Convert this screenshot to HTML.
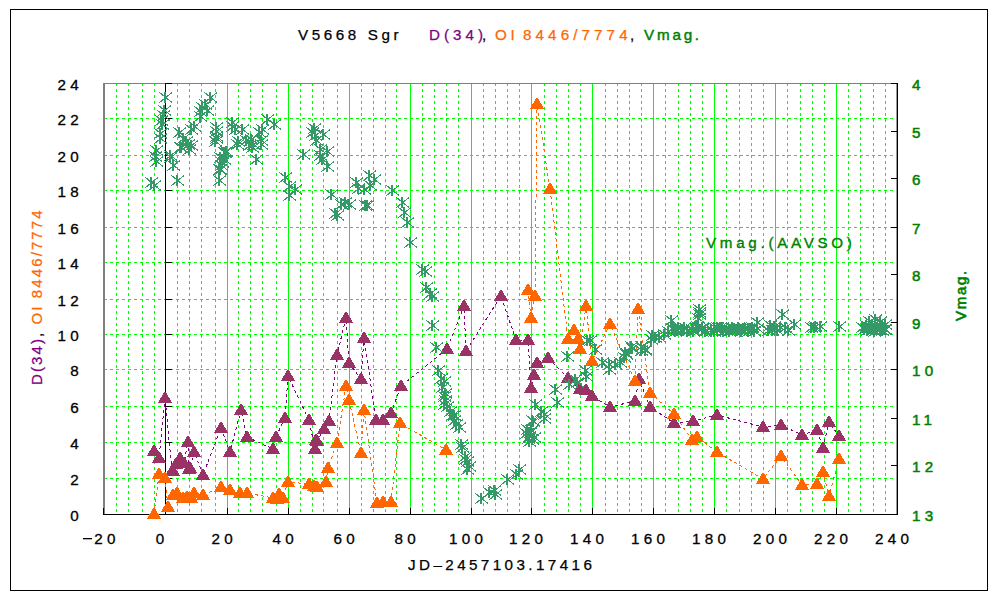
<!DOCTYPE html><html><head><meta charset="utf-8"><title>V5668 Sgr</title><style>html,body{margin:0;padding:0;background:#fff;}body{width:1000px;height:600px;overflow:hidden;}svg{display:block;}text{font-family:"Liberation Sans",sans-serif;}</style></head><body>
<svg width="1000" height="600" viewBox="0 0 1000 600">
<rect x="0" y="0" width="1000" height="600" fill="#fff"/>
<rect x="10.5" y="9.5" width="977" height="581" fill="none" stroke="#000" stroke-width="1" shape-rendering="crispEdges"/>
<path d="M116.5 83V514M128.5 83V514M142.5 83V514M154.5 83V514M177.5 83V514M189.5 83V514M201.5 83V514M215.5 83V514M238.5 83V514M250.5 83V514M262.5 83V514M276.5 83V514M300.5 83V514M312.5 83V514M323.5 83V514M337.5 83V514M361.5 83V514M373.5 83V514M385.5 83V514M396.5 83V514M422.5 83V514M434.5 83V514M446.5 83V514M458.5 83V514M483.5 83V514M495.5 83V514M507.5 83V514M519.5 83V514M544.5 83V514M556.5 83V514M568.5 83V514M580.5 83V514M605.5 83V514M617.5 83V514M629.5 83V514M641.5 83V514M665.5 83V514M678.5 83V514M690.5 83V514M702.5 83V514M726.5 83V514M739.5 83V514M751.5 83V514M763.5 83V514M787.5 83V514M800.5 83V514M812.5 83V514M824.5 83V514M848.5 83V514M860.5 83V514M873.5 83V514M885.5 83V514" stroke="#00ff00" stroke-width="1" stroke-dasharray="3 3" fill="none" shape-rendering="crispEdges"/>
<path d="M227.5 84V514M288.5 84V514M349.5 84V514M410.5 84V514M471.5 84V514M531.5 84V514M592.5 84V514M653.5 84V514M714.5 84V514M775.5 84V514M836.5 84V514" stroke="#00ff00" stroke-width="1" fill="none" shape-rendering="crispEdges"/>
<path d="M104 118.5H897M104 155.5H897M104 190.5H897M104 227.5H897M104 262.5H897M104 299.5H897M104 334.5H897M104 369.5H897M104 406.5H897M104 442.5H897M104 478.5H897" stroke="#00ff00" stroke-width="1" stroke-dasharray="3 3" fill="none" shape-rendering="crispEdges"/>
<g shape-rendering="crispEdges"><path d="M103 83h2v432h-2z" fill="#808080"/><path d="M103 83h795v1h-795z" fill="#808080"/><path d="M896 84h1v430h-1z" fill="#9a9a9a"/><path d="M103 514h795v1h-795z" fill="#000"/><path d="M897 83h1v432h-1z" fill="#000"/><path d="M165 83h1v432h-1z" fill="#000"/><path d="M165 514h7v1h-7zM165 478h7v1h-7zM165 442h7v1h-7zM165 406h7v1h-7zM165 369h7v1h-7zM165 334h7v1h-7zM165 299h7v1h-7zM165 262h7v1h-7zM165 227h7v1h-7zM165 190h7v1h-7zM165 155h7v1h-7zM165 118h7v1h-7zM165 83h7v1h-7zM891 83h6v1h-6zM891 131h6v1h-6zM891 178h6v1h-6zM891 227h6v1h-6zM891 274h6v1h-6zM891 322h6v1h-6zM891 369h6v1h-6zM891 418h6v1h-6zM891 465h6v1h-6zM891 514h6v1h-6zM103 508h1v6h-1zM165 508h1v6h-1zM227 508h1v6h-1zM288 508h1v6h-1zM349 508h1v6h-1zM410 508h1v6h-1zM471 508h1v6h-1zM531 508h1v6h-1zM592 508h1v6h-1zM653 508h1v6h-1zM714 508h1v6h-1zM775 508h1v6h-1zM836 508h1v6h-1zM897 508h1v6h-1z" fill="#000"/></g>
<g shape-rendering="crispEdges">
<path d="M154.0 451.0L159.0 458.0L165.0 398.0L172.0 471.0L173.0 471.0L176.0 464.0L180.0 458.0L184.0 463.0L188.0 442.0L189.0 469.0L190.0 468.0L194.0 452.0L203.0 475.0L221.0 428.0L230.0 452.0L241.0 410.0L247.0 437.0L273.0 449.0L276.0 437.0L285.0 418.0L288.0 376.0L309.0 420.0L315.0 449.0L316.0 440.0L317.0 441.0L324.0 429.0L329.0 421.0L337.0 355.0L346.0 318.0L349.0 363.0L361.0 379.0L364.0 338.0L376.0 420.0L383.0 420.0L391.0 413.0L401.0 386.0L447.0 349.0L464.0 306.0L466.0 351.0L501.0 296.0L516.0 340.0L528.0 340.0L531.0 388.0L534.0 375.0L537.0 363.0L548.0 358.0L568.0 378.0L580.0 389.0L586.0 390.0L592.0 396.0L610.0 407.0L635.0 401.0L639.0 379.0L650.0 407.0L674.0 423.0L693.0 421.0L717.0 415.0L763.0 427.0L781.0 425.0L802.0 435.0L817.0 430.0L823.0 448.0L829.0 422.0L839.0 436.0" fill="none" stroke="#800080" stroke-width="1" stroke-dasharray="3 3"/>
<path d="M154.0 514.0L159.0 474.0L165.0 478.0L168.0 507.0L173.0 495.0L177.0 493.0L183.0 498.0L187.0 497.0L191.0 498.0L194.0 493.0L203.0 495.0L221.0 487.0L230.0 490.0L240.0 493.0L247.0 493.0L273.0 498.0L277.0 499.0L279.0 494.0L283.0 498.0L288.0 482.0L309.0 484.0L314.0 486.0L317.0 487.0L326.0 482.0L328.0 468.0L337.0 443.0L346.0 386.0L349.0 400.0L361.0 453.0L364.0 410.0L377.0 503.0L383.0 502.0L391.0 502.0L400.0 423.0L446.0 450.0M528.0 290.0L531.0 318.0L535.0 296.0L537.0 104.0L550.0 189.0L568.0 339.0L574.0 330.0L578.0 339.0L580.0 349.0L586.0 306.0L592.0 361.0L610.0 324.0L635.0 381.0L638.0 309.0L650.0 393.0L674.0 414.0L692.0 440.0L697.0 437.0L717.0 452.0L763.0 479.0L781.0 456.0L802.0 485.0L817.0 484.0L823.0 472.0L829.0 496.0L839.0 459.0" fill="none" stroke="#ff6600" stroke-width="1" stroke-dasharray="3 3"/>
<path d="M457.0 311.0L471.0 311.0L465.0 300.0L463.0 300.0ZM440.0 354.0L454.0 354.0L448.0 343.0L446.0 343.0ZM459.0 356.0L473.0 356.0L467.0 345.0L465.0 345.0ZM158.0 403.0L172.0 403.0L166.0 392.0L164.0 392.0ZM214.0 433.0L228.0 433.0L222.0 422.0L220.0 422.0ZM181.0 447.0L195.0 447.0L189.0 436.0L187.0 436.0ZM147.0 456.0L161.0 456.0L155.0 445.0L153.0 445.0ZM152.0 463.0L166.0 463.0L160.0 452.0L158.0 452.0ZM173.0 463.0L187.0 463.0L181.0 452.0L179.0 452.0ZM166.0 476.0L180.0 476.0L174.0 465.0L172.0 465.0ZM183.0 473.0L197.0 473.0L191.0 462.0L189.0 462.0ZM187.0 457.0L201.0 457.0L195.0 446.0L193.0 446.0ZM196.0 480.0L210.0 480.0L204.0 469.0L202.0 469.0ZM234.0 415.0L248.0 415.0L242.0 404.0L240.0 404.0ZM240.0 442.0L254.0 442.0L248.0 431.0L246.0 431.0ZM223.0 457.0L237.0 457.0L231.0 446.0L229.0 446.0ZM278.0 423.0L292.0 423.0L286.0 412.0L284.0 412.0ZM269.0 442.0L283.0 442.0L277.0 431.0L275.0 431.0ZM266.0 454.0L280.0 454.0L274.0 443.0L272.0 443.0ZM302.0 425.0L316.0 425.0L310.0 414.0L308.0 414.0ZM339.0 323.0L353.0 323.0L347.0 312.0L345.0 312.0ZM357.0 343.0L371.0 343.0L365.0 332.0L363.0 332.0ZM330.0 360.0L344.0 360.0L338.0 349.0L336.0 349.0ZM342.0 368.0L356.0 368.0L350.0 357.0L348.0 357.0ZM354.0 384.0L368.0 384.0L362.0 373.0L360.0 373.0ZM322.0 426.0L336.0 426.0L330.0 415.0L328.0 415.0ZM317.0 434.0L331.0 434.0L325.0 423.0L323.0 423.0ZM309.0 445.0L323.0 445.0L317.0 434.0L315.0 434.0ZM369.0 425.0L383.0 425.0L377.0 414.0L375.0 414.0ZM376.0 425.0L390.0 425.0L384.0 414.0L382.0 414.0ZM384.0 418.0L398.0 418.0L392.0 407.0L390.0 407.0ZM394.0 391.0L408.0 391.0L402.0 380.0L400.0 380.0ZM310.0 446.0L324.0 446.0L318.0 435.0L316.0 435.0ZM308.0 454.0L322.0 454.0L316.0 443.0L314.0 443.0ZM494.0 301.0L508.0 301.0L502.0 290.0L500.0 290.0ZM509.0 345.0L523.0 345.0L517.0 334.0L515.0 334.0ZM521.0 345.0L535.0 345.0L529.0 334.0L527.0 334.0ZM530.0 368.0L544.0 368.0L538.0 357.0L536.0 357.0ZM541.0 363.0L555.0 363.0L549.0 352.0L547.0 352.0ZM527.0 380.0L541.0 380.0L535.0 369.0L533.0 369.0ZM524.0 393.0L538.0 393.0L532.0 382.0L530.0 382.0ZM561.0 383.0L575.0 383.0L569.0 372.0L567.0 372.0ZM573.0 394.0L587.0 394.0L581.0 383.0L579.0 383.0ZM579.0 395.0L593.0 395.0L587.0 384.0L585.0 384.0ZM585.0 401.0L599.0 401.0L593.0 390.0L591.0 390.0ZM632.0 384.0L646.0 384.0L640.0 373.0L638.0 373.0ZM628.0 406.0L642.0 406.0L636.0 395.0L634.0 395.0ZM603.0 412.0L617.0 412.0L611.0 401.0L609.0 401.0ZM643.0 412.0L657.0 412.0L651.0 401.0L649.0 401.0ZM667.0 428.0L681.0 428.0L675.0 417.0L673.0 417.0ZM710.0 420.0L724.0 420.0L718.0 409.0L716.0 409.0ZM756.0 432.0L770.0 432.0L764.0 421.0L762.0 421.0ZM774.0 430.0L788.0 430.0L782.0 419.0L780.0 419.0ZM795.0 440.0L809.0 440.0L803.0 429.0L801.0 429.0ZM810.0 435.0L824.0 435.0L818.0 424.0L816.0 424.0ZM822.0 427.0L836.0 427.0L830.0 416.0L828.0 416.0ZM832.0 441.0L846.0 441.0L840.0 430.0L838.0 430.0ZM816.0 453.0L830.0 453.0L824.0 442.0L822.0 442.0ZM281.0 381.0L295.0 381.0L289.0 370.0L287.0 370.0ZM169.0 469.0L183.0 469.0L177.0 458.0L175.0 458.0ZM165.0 476.0L179.0 476.0L173.0 465.0L171.0 465.0ZM177.0 468.0L191.0 468.0L185.0 457.0L183.0 457.0ZM182.0 474.0L196.0 474.0L190.0 463.0L188.0 463.0ZM686.0 426.0L700.0 426.0L694.0 415.0L692.0 415.0Z" fill="#993366"/>
<path d="M152.0 479.0L166.0 479.0L160.0 468.0L158.0 468.0ZM158.0 483.0L172.0 483.0L166.0 472.0L164.0 472.0ZM147.0 519.0L161.0 519.0L155.0 508.0L153.0 508.0ZM161.0 512.0L175.0 512.0L169.0 501.0L167.0 501.0ZM214.0 492.0L228.0 492.0L222.0 481.0L220.0 481.0ZM223.0 495.0L237.0 495.0L231.0 484.0L229.0 484.0ZM166.0 500.0L180.0 500.0L174.0 489.0L172.0 489.0ZM170.0 498.0L184.0 498.0L178.0 487.0L176.0 487.0ZM176.0 503.0L190.0 503.0L184.0 492.0L182.0 492.0ZM180.0 502.0L194.0 502.0L188.0 491.0L186.0 491.0ZM187.0 498.0L201.0 498.0L195.0 487.0L193.0 487.0ZM184.0 503.0L198.0 503.0L192.0 492.0L190.0 492.0ZM196.0 500.0L210.0 500.0L204.0 489.0L202.0 489.0ZM233.0 498.0L247.0 498.0L241.0 487.0L239.0 487.0ZM240.0 498.0L254.0 498.0L248.0 487.0L246.0 487.0ZM281.0 487.0L295.0 487.0L289.0 476.0L287.0 476.0ZM272.0 499.0L286.0 499.0L280.0 488.0L278.0 488.0ZM266.0 503.0L280.0 503.0L274.0 492.0L272.0 492.0ZM276.0 503.0L290.0 503.0L284.0 492.0L282.0 492.0ZM270.0 504.0L284.0 504.0L278.0 493.0L276.0 493.0ZM302.0 489.0L316.0 489.0L310.0 478.0L308.0 478.0ZM307.0 491.0L321.0 491.0L315.0 480.0L313.0 480.0ZM339.0 391.0L353.0 391.0L347.0 380.0L345.0 380.0ZM342.0 405.0L356.0 405.0L350.0 394.0L348.0 394.0ZM357.0 415.0L371.0 415.0L365.0 404.0L363.0 404.0ZM330.0 448.0L344.0 448.0L338.0 437.0L336.0 437.0ZM321.0 473.0L335.0 473.0L329.0 462.0L327.0 462.0ZM319.0 487.0L333.0 487.0L327.0 476.0L325.0 476.0ZM310.0 492.0L324.0 492.0L318.0 481.0L316.0 481.0ZM354.0 458.0L368.0 458.0L362.0 447.0L360.0 447.0ZM370.0 508.0L384.0 508.0L378.0 497.0L376.0 497.0ZM376.0 507.0L390.0 507.0L384.0 496.0L382.0 496.0ZM384.0 507.0L398.0 507.0L392.0 496.0L390.0 496.0ZM439.0 455.0L453.0 455.0L447.0 444.0L445.0 444.0ZM393.0 428.0L407.0 428.0L401.0 417.0L399.0 417.0ZM521.0 295.0L535.0 295.0L529.0 284.0L527.0 284.0ZM528.0 301.0L542.0 301.0L536.0 290.0L534.0 290.0ZM524.0 323.0L538.0 323.0L532.0 312.0L530.0 312.0ZM567.0 335.0L581.0 335.0L575.0 324.0L573.0 324.0ZM561.0 344.0L575.0 344.0L569.0 333.0L567.0 333.0ZM571.0 344.0L585.0 344.0L579.0 333.0L577.0 333.0ZM573.0 354.0L587.0 354.0L581.0 343.0L579.0 343.0ZM579.0 311.0L593.0 311.0L587.0 300.0L585.0 300.0ZM631.0 314.0L645.0 314.0L639.0 303.0L637.0 303.0ZM603.0 329.0L617.0 329.0L611.0 318.0L609.0 318.0ZM585.0 366.0L599.0 366.0L593.0 355.0L591.0 355.0ZM628.0 386.0L642.0 386.0L636.0 375.0L634.0 375.0ZM643.0 398.0L657.0 398.0L651.0 387.0L649.0 387.0ZM667.0 419.0L681.0 419.0L675.0 408.0L673.0 408.0ZM710.0 457.0L724.0 457.0L718.0 446.0L716.0 446.0ZM756.0 484.0L770.0 484.0L764.0 473.0L762.0 473.0ZM774.0 461.0L788.0 461.0L782.0 450.0L780.0 450.0ZM795.0 490.0L809.0 490.0L803.0 479.0L801.0 479.0ZM810.0 489.0L824.0 489.0L818.0 478.0L816.0 478.0ZM816.0 477.0L830.0 477.0L824.0 466.0L822.0 466.0ZM832.0 464.0L846.0 464.0L840.0 453.0L838.0 453.0ZM822.0 501.0L836.0 501.0L830.0 490.0L828.0 490.0ZM543.0 194.0L557.0 194.0L551.0 183.0L549.0 183.0ZM530.0 109.0L544.0 109.0L538.0 98.0L536.0 98.0ZM685.0 445.0L699.0 445.0L693.0 434.0L691.0 434.0ZM690.0 442.0L704.0 442.0L698.0 431.0L696.0 431.0Z" fill="#ff6600"/>
<path d="M159.5 92.5L172.0 102.5M159.5 102.5L172.0 92.5M173.5 127.5L186.0 137.5M173.5 137.5L186.0 127.5M185.5 124.5L198.0 134.5M185.5 134.5L198.0 124.5M188.5 121.5L201.0 131.5M188.5 131.5L201.0 121.5M180.5 136.5L193.0 146.5M180.5 146.5L193.0 136.5M182.5 139.5L195.0 149.5M182.5 149.5L195.0 139.5M177.5 133.5L190.0 143.5M177.5 143.5L190.0 133.5M175.5 142.5L188.0 152.5M175.5 152.5L188.0 142.5M183.5 144.5L196.0 154.5M183.5 154.5L196.0 144.5M164.5 150.5L177.0 160.5M164.5 160.5L177.0 150.5M204.5 92.5L217.0 102.5M204.5 102.5L217.0 92.5M199.5 99.5L212.0 109.5M199.5 109.5L212.0 99.5M196.5 102.5L209.0 112.5M196.5 112.5L209.0 102.5M194.5 106.5L207.0 116.5M194.5 116.5L207.0 106.5M194.5 111.5L207.0 121.5M194.5 121.5L207.0 111.5M201.5 105.5L214.0 115.5M201.5 115.5L214.0 105.5M210.5 126.5L223.0 136.5M210.5 136.5L223.0 126.5M210.5 133.5L223.0 143.5M210.5 143.5L223.0 133.5M145.5 177.5L158.0 187.5M145.5 187.5L158.0 177.5M148.5 180.5L161.0 190.5M148.5 190.5L161.0 180.5M164.5 152.5L177.0 162.5M164.5 162.5L177.0 152.5M167.5 160.5L180.0 170.5M167.5 170.5L180.0 160.5M171.5 175.5L184.0 185.5M171.5 185.5L184.0 175.5M174.5 142.5L187.0 152.5M174.5 152.5L187.0 142.5M214.5 152.5L227.0 162.5M214.5 162.5L227.0 152.5M216.5 157.5L229.0 167.5M216.5 167.5L229.0 157.5M213.5 164.5L226.0 174.5M213.5 174.5L226.0 164.5M213.5 175.5L226.0 185.5M213.5 185.5L226.0 175.5M219.5 147.5L232.0 157.5M219.5 157.5L232.0 147.5M210.5 122.5L223.0 132.5M210.5 132.5L223.0 122.5M210.5 131.5L223.0 141.5M210.5 141.5L223.0 131.5M226.5 117.5L239.0 127.5M226.5 127.5L239.0 117.5M226.5 121.5L239.0 131.5M226.5 131.5L239.0 121.5M229.5 124.5L242.0 134.5M229.5 134.5L242.0 124.5M236.5 124.5L249.0 134.5M236.5 134.5L249.0 124.5M232.5 136.5L245.0 146.5M232.5 146.5L245.0 136.5M240.5 135.5L253.0 145.5M240.5 145.5L253.0 135.5M245.5 134.5L258.0 144.5M245.5 144.5L258.0 134.5M247.5 139.5L260.0 149.5M247.5 149.5L260.0 139.5M253.5 127.5L266.0 137.5M253.5 137.5L266.0 127.5M255.5 135.5L268.0 145.5M255.5 145.5L268.0 135.5M256.5 124.5L269.0 134.5M256.5 134.5L269.0 124.5M261.5 114.5L274.0 124.5M261.5 124.5L274.0 114.5M268.5 119.5L281.0 129.5M268.5 129.5L281.0 119.5M250.5 154.5L263.0 164.5M250.5 164.5L263.0 154.5M218.5 147.5L231.0 157.5M218.5 157.5L231.0 147.5M310.5 135.5L323.0 145.5M310.5 145.5L323.0 135.5M306.5 127.5L319.0 137.5M306.5 137.5L319.0 127.5M309.5 130.5L322.0 140.5M309.5 140.5L322.0 130.5M317.5 129.5L330.0 139.5M317.5 139.5L330.0 129.5M308.5 123.5L321.0 133.5M308.5 133.5L321.0 123.5M297.5 149.5L310.0 159.5M297.5 159.5L310.0 149.5M314.5 150.5L327.0 160.5M314.5 160.5L327.0 150.5M316.5 154.5L329.0 164.5M316.5 164.5L329.0 154.5M321.5 146.5L334.0 156.5M321.5 156.5L334.0 146.5M314.5 144.5L327.0 154.5M314.5 154.5L327.0 144.5M321.5 161.5L334.0 171.5M321.5 171.5L334.0 161.5M279.5 172.5L292.0 182.5M279.5 182.5L292.0 172.5M283.5 181.5L296.0 191.5M283.5 191.5L296.0 181.5M289.5 184.5L302.0 194.5M289.5 194.5L302.0 184.5M283.5 190.5L296.0 200.5M283.5 200.5L296.0 190.5M325.5 189.5L338.0 199.5M325.5 199.5L338.0 189.5M331.5 210.5L344.0 220.5M331.5 220.5L344.0 210.5M329.5 208.5L342.0 218.5M329.5 218.5L342.0 208.5M335.5 199.5L348.0 209.5M335.5 209.5L348.0 199.5M339.5 197.5L352.0 207.5M339.5 207.5L352.0 197.5M343.5 199.5L356.0 209.5M343.5 209.5L356.0 199.5M350.5 177.5L363.0 187.5M350.5 187.5L363.0 177.5M359.5 200.5L372.0 210.5M359.5 210.5L372.0 200.5M363.5 170.5L376.0 180.5M363.5 180.5L376.0 170.5M358.5 184.5L371.0 194.5M358.5 194.5L371.0 184.5M364.5 180.5L377.0 190.5M364.5 190.5L377.0 180.5M368.5 174.5L381.0 184.5M368.5 184.5L381.0 174.5M361.5 200.5L374.0 210.5M361.5 210.5L374.0 200.5M386.5 185.5L399.0 195.5M386.5 195.5L399.0 185.5M396.5 197.5L409.0 207.5M396.5 207.5L409.0 197.5M398.5 207.5L411.0 217.5M398.5 217.5L411.0 207.5M401.5 217.5L414.0 227.5M401.5 227.5L414.0 217.5M404.5 237.5L417.0 247.5M404.5 247.5L417.0 237.5M416.5 264.5L429.0 274.5M416.5 274.5L429.0 264.5M419.5 266.5L432.0 276.5M419.5 276.5L432.0 266.5M420.5 282.5L433.0 292.5M420.5 292.5L433.0 282.5M424.5 288.5L437.0 298.5M424.5 298.5L437.0 288.5M426.5 291.5L439.0 301.5M426.5 301.5L439.0 291.5M426.5 320.5L439.0 330.5M426.5 330.5L439.0 320.5M430.5 342.5L443.0 352.5M430.5 352.5L443.0 342.5M432.5 365.5L445.0 375.5M432.5 375.5L445.0 365.5M438.5 376.5L451.0 386.5M438.5 386.5L451.0 376.5M436.5 382.5L449.0 392.5M436.5 392.5L449.0 382.5M439.5 388.5L452.0 398.5M439.5 398.5L452.0 388.5M438.5 391.5L451.0 401.5M438.5 401.5L451.0 391.5M439.5 395.5L452.0 405.5M439.5 405.5L452.0 395.5M441.5 401.5L454.0 411.5M441.5 411.5L454.0 401.5M444.5 406.5L457.0 416.5M444.5 416.5L457.0 406.5M448.5 410.5L461.0 420.5M448.5 420.5L461.0 410.5M435.5 373.5L448.0 383.5M435.5 383.5L448.0 373.5M438.5 399.5L451.0 409.5M438.5 409.5L451.0 399.5M446.5 410.5L459.0 420.5M446.5 420.5L459.0 410.5M448.5 415.5L461.0 425.5M448.5 425.5L461.0 415.5M450.5 419.5L463.0 429.5M450.5 429.5L463.0 419.5M453.5 422.5L466.0 432.5M453.5 432.5L466.0 422.5M455.5 439.5L468.0 449.5M455.5 449.5L468.0 439.5M456.5 442.5L469.0 452.5M456.5 452.5L469.0 442.5M459.5 451.5L472.0 461.5M459.5 461.5L472.0 451.5M461.5 456.5L474.0 466.5M461.5 466.5L474.0 456.5M463.5 461.5L476.0 471.5M463.5 471.5L476.0 461.5M459.5 454.5L472.0 464.5M459.5 464.5L472.0 454.5M461.5 464.5L474.0 474.5M461.5 474.5L474.0 464.5M475.5 493.5L488.0 503.5M475.5 503.5L488.0 493.5M483.5 487.5L496.0 497.5M483.5 497.5L496.0 487.5M488.5 485.5L501.0 495.5M488.5 495.5L501.0 485.5M489.5 489.5L502.0 499.5M489.5 499.5L502.0 489.5M501.5 474.5L514.0 484.5M501.5 484.5L514.0 474.5M510.5 469.5L523.0 479.5M510.5 479.5L523.0 469.5M513.5 464.5L526.0 474.5M513.5 474.5L526.0 464.5M561.5 351.5L574.0 361.5M561.5 361.5L574.0 351.5M549.5 384.5L562.0 394.5M549.5 394.5L562.0 384.5M569.5 374.5L582.0 384.5M569.5 384.5L582.0 374.5M581.5 335.5L594.0 345.5M581.5 345.5L594.0 335.5M579.5 365.5L592.0 375.5M579.5 375.5L592.0 365.5M580.5 371.5L593.0 381.5M580.5 381.5L593.0 371.5M551.5 397.5L564.0 407.5M551.5 407.5L564.0 397.5M529.5 399.5L542.0 409.5M529.5 409.5L542.0 399.5M535.5 406.5L548.0 416.5M535.5 416.5L548.0 406.5M538.5 409.5L551.0 419.5M538.5 419.5L551.0 409.5M526.5 415.5L539.0 425.5M526.5 425.5L539.0 415.5M524.5 427.5L537.0 437.5M524.5 437.5L537.0 427.5M523.5 431.5L536.0 441.5M523.5 441.5L536.0 431.5M563.5 379.5L576.0 389.5M563.5 389.5L576.0 379.5M571.5 377.5L584.0 387.5M571.5 387.5L584.0 377.5M584.5 335.5L597.0 345.5M584.5 345.5L597.0 335.5M589.5 344.5L602.0 354.5M589.5 354.5L602.0 344.5M625.5 341.5L638.0 351.5M625.5 351.5L638.0 341.5M619.5 347.5L632.0 357.5M619.5 357.5L632.0 347.5M596.5 357.5L609.0 367.5M596.5 367.5L609.0 357.5M603.5 359.5L616.0 369.5M603.5 369.5L616.0 359.5M603.5 364.5L616.0 374.5M603.5 374.5L616.0 364.5M614.5 357.5L627.0 367.5M614.5 367.5L627.0 357.5M618.5 352.5L631.0 362.5M618.5 362.5L631.0 352.5M620.5 349.5L633.0 359.5M620.5 359.5L633.0 349.5M609.5 359.5L622.0 369.5M609.5 369.5L622.0 359.5M665.5 315.5L678.0 325.5M665.5 325.5L678.0 315.5M671.5 325.5L684.0 335.5M671.5 335.5L684.0 325.5M676.5 325.5L689.0 335.5M676.5 335.5L689.0 325.5M681.5 325.5L694.0 335.5M681.5 335.5L694.0 325.5M686.5 324.5L699.0 334.5M686.5 334.5L699.0 324.5M693.5 304.5L706.0 314.5M693.5 314.5L706.0 304.5M693.5 309.5L706.0 319.5M693.5 319.5L706.0 309.5M691.5 321.5L704.0 331.5M691.5 331.5L704.0 321.5M699.5 325.5L712.0 335.5M699.5 335.5L712.0 325.5M705.5 324.5L718.0 334.5M705.5 334.5L718.0 324.5M711.5 322.5L724.0 332.5M711.5 332.5L724.0 322.5M716.5 322.5L729.0 332.5M716.5 332.5L729.0 322.5M724.5 324.5L737.0 334.5M724.5 334.5L737.0 324.5M730.5 324.5L743.0 334.5M730.5 334.5L743.0 324.5M639.5 345.5L652.0 355.5M639.5 355.5L652.0 345.5M668.5 324.5L681.0 334.5M668.5 334.5L681.0 324.5M696.5 323.5L709.0 333.5M696.5 333.5L709.0 323.5M708.5 326.5L721.0 336.5M708.5 336.5L721.0 326.5M720.5 325.5L733.0 335.5M720.5 335.5L733.0 325.5M727.5 324.5L740.0 334.5M727.5 334.5L740.0 324.5M732.5 324.5L745.0 334.5M732.5 334.5L745.0 324.5M737.5 323.5L750.0 333.5M737.5 333.5L750.0 323.5M742.5 323.5L755.0 333.5M742.5 333.5L755.0 323.5M746.5 322.5L759.0 332.5M746.5 332.5L759.0 322.5M751.5 317.5L764.0 327.5M751.5 327.5L764.0 317.5M764.5 320.5L777.0 330.5M764.5 330.5L777.0 320.5M768.5 321.5L781.0 331.5M768.5 331.5L781.0 321.5M774.5 322.5L787.0 332.5M774.5 332.5L787.0 322.5M779.5 322.5L792.0 332.5M779.5 332.5L792.0 322.5M776.5 309.5L789.0 319.5M776.5 319.5L789.0 309.5M788.5 319.5L801.0 329.5M788.5 329.5L801.0 319.5M809.5 321.5L822.0 331.5M809.5 331.5L822.0 321.5M814.5 321.5L827.0 331.5M814.5 331.5L827.0 321.5M805.5 322.5L818.0 332.5M805.5 332.5L818.0 322.5M808.5 322.5L821.0 332.5M808.5 332.5L821.0 322.5M833.5 321.5L846.0 331.5M833.5 331.5L846.0 321.5M856.5 322.5L869.0 332.5M856.5 332.5L869.0 322.5M863.5 316.5L876.0 326.5M863.5 326.5L876.0 316.5M869.5 314.5L882.0 324.5M869.5 324.5L882.0 314.5M874.5 316.5L887.0 326.5M874.5 326.5L887.0 316.5M879.5 319.5L892.0 329.5M879.5 329.5L892.0 319.5M864.5 322.5L877.0 332.5M864.5 332.5L877.0 322.5M871.5 322.5L884.0 332.5M871.5 332.5L884.0 322.5M879.5 324.5L892.0 334.5M879.5 334.5L892.0 324.5M866.5 320.5L879.0 330.5M866.5 330.5L879.0 320.5M860.5 320.5L873.0 330.5M860.5 330.5L873.0 320.5M868.5 326.5L881.0 336.5M868.5 336.5L881.0 326.5M876.5 325.5L889.0 335.5M876.5 335.5L889.0 325.5M861.5 325.5L874.0 335.5M861.5 335.5L874.0 325.5M220.5 146.5L233.0 156.5M220.5 156.5L233.0 146.5M218.5 154.5L231.0 164.5M218.5 164.5L231.0 154.5M215.5 160.5L228.0 170.5M215.5 170.5L228.0 160.5M214.5 164.5L227.0 174.5M214.5 174.5L227.0 164.5M185.5 140.5L198.0 150.5M185.5 150.5L198.0 140.5M231.5 139.5L244.0 149.5M231.5 149.5L244.0 139.5M243.5 140.5L256.0 150.5M243.5 150.5L256.0 140.5M246.5 142.5L259.0 152.5M246.5 152.5L259.0 142.5M255.5 139.5L268.0 149.5M255.5 149.5L268.0 139.5M209.5 136.5L222.0 146.5M209.5 146.5L222.0 136.5M522.5 433.5L535.0 443.5M522.5 443.5L535.0 433.5M526.5 434.5L539.0 444.5M526.5 444.5L539.0 434.5M521.5 424.5L534.0 434.5M521.5 434.5L534.0 424.5M527.5 416.5L540.0 426.5M527.5 426.5L540.0 416.5M538.5 413.5L551.0 423.5M538.5 423.5L551.0 413.5M669.5 326.5L682.0 336.5M669.5 336.5L682.0 326.5M672.5 322.5L685.0 332.5M672.5 332.5L685.0 322.5M678.5 322.5L691.0 332.5M678.5 332.5L691.0 322.5M681.5 326.5L694.0 336.5M681.5 336.5L694.0 326.5M687.5 326.5L700.0 336.5M687.5 336.5L700.0 326.5M690.5 322.5L703.0 332.5M690.5 332.5L703.0 322.5M696.5 322.5L709.0 332.5M696.5 332.5L709.0 322.5M699.5 326.5L712.0 336.5M699.5 336.5L712.0 326.5M705.5 326.5L718.0 336.5M705.5 336.5L718.0 326.5M708.5 322.5L721.0 332.5M708.5 332.5L721.0 322.5M714.5 322.5L727.0 332.5M714.5 332.5L727.0 322.5M717.5 326.5L730.0 336.5M717.5 336.5L730.0 326.5M723.5 326.5L736.0 336.5M723.5 336.5L736.0 326.5M726.5 322.5L739.0 332.5M726.5 332.5L739.0 322.5M732.5 322.5L745.0 332.5M732.5 332.5L745.0 322.5M735.5 326.5L748.0 336.5M735.5 336.5L748.0 326.5M739.5 323.5L752.0 333.5M739.5 333.5L752.0 323.5M742.5 326.5L755.0 336.5M742.5 336.5L755.0 326.5M745.5 323.5L758.0 333.5M745.5 333.5L758.0 323.5M748.5 326.5L761.0 336.5M748.5 336.5L761.0 326.5M751.5 323.5L764.0 333.5M751.5 333.5L764.0 323.5M762.5 325.5L775.0 335.5M762.5 335.5L775.0 325.5M766.5 325.5L779.0 335.5M766.5 335.5L779.0 325.5M771.5 325.5L784.0 335.5M771.5 335.5L784.0 325.5M782.5 325.5L795.0 335.5M782.5 335.5L795.0 325.5M858.5 324.5L871.0 334.5M858.5 334.5L871.0 324.5M862.5 324.5L875.0 334.5M862.5 334.5L875.0 324.5M866.5 324.5L879.0 334.5M866.5 334.5L879.0 324.5M870.5 324.5L883.0 334.5M870.5 334.5L883.0 324.5M874.5 324.5L887.0 334.5M874.5 334.5L887.0 324.5M878.5 324.5L891.0 334.5M878.5 334.5L891.0 324.5M352.5 183.5L365.0 193.5M352.5 193.5L365.0 183.5M520.5 428.5L533.0 438.5M520.5 438.5L533.0 428.5M525.5 425.5L538.0 435.5M525.5 435.5L538.0 425.5M528.5 432.5L541.0 442.5M528.5 442.5L541.0 432.5M523.5 436.5L536.0 446.5M523.5 446.5L536.0 436.5M693.5 307.5L706.0 317.5M693.5 317.5L706.0 307.5M635.5 341.5L648.0 351.5M635.5 351.5L648.0 341.5M635.5 345.5L648.0 355.5M635.5 355.5L648.0 345.5M639.5 344.5L652.0 354.5M639.5 354.5L652.0 344.5M645.5 334.5L658.0 344.5M645.5 344.5L658.0 334.5M646.5 330.5L659.0 340.5M646.5 340.5L659.0 330.5M649.5 332.5L662.0 342.5M649.5 342.5L662.0 332.5M626.5 343.5L639.0 353.5M626.5 353.5L639.0 343.5M158.5 105.5L171.0 115.5M158.5 115.5L171.0 105.5M157.5 110.5L170.0 120.5M157.5 120.5L170.0 110.5M155.5 115.5L168.0 125.5M155.5 125.5L168.0 115.5M156.5 119.5L169.0 129.5M156.5 129.5L169.0 119.5M154.5 128.5L167.0 138.5M154.5 138.5L167.0 128.5M154.5 133.5L167.0 143.5M154.5 143.5L167.0 133.5M150.5 145.5L163.0 155.5M150.5 155.5L163.0 145.5M149.5 151.5L162.0 161.5M149.5 161.5L162.0 151.5M150.5 156.5L163.0 166.5M150.5 166.5L163.0 156.5M653.5 332.5L666.0 342.5M653.5 342.5L666.0 332.5M658.5 329.5L671.0 339.5M658.5 339.5L671.0 329.5M662.5 326.5L675.0 336.5M662.5 336.5L675.0 326.5M666.5 323.5L679.0 333.5M666.5 333.5L679.0 323.5M692.5 313.5L705.0 323.5M692.5 323.5L705.0 313.5" fill="none" stroke="#339966" stroke-width="1"/>
<path d="M164.0 92.0h2v11h-2zM178.0 127.0h2v11h-2zM190.0 124.0h2v11h-2zM193.0 121.0h2v11h-2zM185.0 136.0h2v11h-2zM187.0 139.0h2v11h-2zM182.0 133.0h2v11h-2zM180.0 142.0h2v11h-2zM188.0 144.0h2v11h-2zM169.0 150.0h2v11h-2zM209.0 92.0h2v11h-2zM204.0 99.0h2v11h-2zM201.0 102.0h2v11h-2zM199.0 106.0h2v11h-2zM199.0 111.0h2v11h-2zM206.0 105.0h2v11h-2zM215.0 126.0h2v11h-2zM215.0 133.0h2v11h-2zM150.0 177.0h2v11h-2zM153.0 180.0h2v11h-2zM169.0 152.0h2v11h-2zM172.0 160.0h2v11h-2zM176.0 175.0h2v11h-2zM179.0 142.0h2v11h-2zM219.0 152.0h2v11h-2zM221.0 157.0h2v11h-2zM218.0 164.0h2v11h-2zM218.0 175.0h2v11h-2zM224.0 147.0h2v11h-2zM215.0 122.0h2v11h-2zM215.0 131.0h2v11h-2zM231.0 117.0h2v11h-2zM231.0 121.0h2v11h-2zM234.0 124.0h2v11h-2zM241.0 124.0h2v11h-2zM237.0 136.0h2v11h-2zM245.0 135.0h2v11h-2zM250.0 134.0h2v11h-2zM252.0 139.0h2v11h-2zM258.0 127.0h2v11h-2zM260.0 135.0h2v11h-2zM261.0 124.0h2v11h-2zM266.0 114.0h2v11h-2zM273.0 119.0h2v11h-2zM255.0 154.0h2v11h-2zM223.0 147.0h2v11h-2zM315.0 135.0h2v11h-2zM311.0 127.0h2v11h-2zM314.0 130.0h2v11h-2zM322.0 129.0h2v11h-2zM313.0 123.0h2v11h-2zM302.0 149.0h2v11h-2zM319.0 150.0h2v11h-2zM321.0 154.0h2v11h-2zM326.0 146.0h2v11h-2zM319.0 144.0h2v11h-2zM326.0 161.0h2v11h-2zM284.0 172.0h2v11h-2zM288.0 181.0h2v11h-2zM294.0 184.0h2v11h-2zM288.0 190.0h2v11h-2zM330.0 189.0h2v11h-2zM336.0 210.0h2v11h-2zM334.0 208.0h2v11h-2zM340.0 199.0h2v11h-2zM344.0 197.0h2v11h-2zM348.0 199.0h2v11h-2zM355.0 177.0h2v11h-2zM364.0 200.0h2v11h-2zM368.0 170.0h2v11h-2zM363.0 184.0h2v11h-2zM369.0 180.0h2v11h-2zM373.0 174.0h2v11h-2zM366.0 200.0h2v11h-2zM391.0 185.0h2v11h-2zM401.0 197.0h2v11h-2zM403.0 207.0h2v11h-2zM406.0 217.0h2v11h-2zM409.0 237.0h2v11h-2zM421.0 264.0h2v11h-2zM424.0 266.0h2v11h-2zM425.0 282.0h2v11h-2zM429.0 288.0h2v11h-2zM431.0 291.0h2v11h-2zM431.0 320.0h2v11h-2zM435.0 342.0h2v11h-2zM437.0 365.0h2v11h-2zM443.0 376.0h2v11h-2zM441.0 382.0h2v11h-2zM444.0 388.0h2v11h-2zM443.0 391.0h2v11h-2zM444.0 395.0h2v11h-2zM446.0 401.0h2v11h-2zM449.0 406.0h2v11h-2zM453.0 410.0h2v11h-2zM440.0 373.0h2v11h-2zM443.0 399.0h2v11h-2zM451.0 410.0h2v11h-2zM453.0 415.0h2v11h-2zM455.0 419.0h2v11h-2zM458.0 422.0h2v11h-2zM460.0 439.0h2v11h-2zM461.0 442.0h2v11h-2zM464.0 451.0h2v11h-2zM466.0 456.0h2v11h-2zM468.0 461.0h2v11h-2zM464.0 454.0h2v11h-2zM466.0 464.0h2v11h-2zM480.0 493.0h2v11h-2zM488.0 487.0h2v11h-2zM493.0 485.0h2v11h-2zM494.0 489.0h2v11h-2zM506.0 474.0h2v11h-2zM515.0 469.0h2v11h-2zM518.0 464.0h2v11h-2zM566.0 351.0h2v11h-2zM554.0 384.0h2v11h-2zM574.0 374.0h2v11h-2zM586.0 335.0h2v11h-2zM584.0 365.0h2v11h-2zM585.0 371.0h2v11h-2zM556.0 397.0h2v11h-2zM534.0 399.0h2v11h-2zM540.0 406.0h2v11h-2zM543.0 409.0h2v11h-2zM531.0 415.0h2v11h-2zM529.0 427.0h2v11h-2zM528.0 431.0h2v11h-2zM568.0 379.0h2v11h-2zM576.0 377.0h2v11h-2zM589.0 335.0h2v11h-2zM594.0 344.0h2v11h-2zM630.0 341.0h2v11h-2zM624.0 347.0h2v11h-2zM601.0 357.0h2v11h-2zM608.0 359.0h2v11h-2zM608.0 364.0h2v11h-2zM619.0 357.0h2v11h-2zM623.0 352.0h2v11h-2zM625.0 349.0h2v11h-2zM614.0 359.0h2v11h-2zM670.0 315.0h2v11h-2zM676.0 325.0h2v11h-2zM681.0 325.0h2v11h-2zM686.0 325.0h2v11h-2zM691.0 324.0h2v11h-2zM698.0 304.0h2v11h-2zM698.0 309.0h2v11h-2zM696.0 321.0h2v11h-2zM704.0 325.0h2v11h-2zM710.0 324.0h2v11h-2zM716.0 322.0h2v11h-2zM721.0 322.0h2v11h-2zM729.0 324.0h2v11h-2zM735.0 324.0h2v11h-2zM644.0 345.0h2v11h-2zM673.0 324.0h2v11h-2zM701.0 323.0h2v11h-2zM713.0 326.0h2v11h-2zM725.0 325.0h2v11h-2zM732.0 324.0h2v11h-2zM737.0 324.0h2v11h-2zM742.0 323.0h2v11h-2zM747.0 323.0h2v11h-2zM751.0 322.0h2v11h-2zM756.0 317.0h2v11h-2zM769.0 320.0h2v11h-2zM773.0 321.0h2v11h-2zM779.0 322.0h2v11h-2zM784.0 322.0h2v11h-2zM781.0 309.0h2v11h-2zM793.0 319.0h2v11h-2zM814.0 321.0h2v11h-2zM819.0 321.0h2v11h-2zM810.0 322.0h2v11h-2zM813.0 322.0h2v11h-2zM838.0 321.0h2v11h-2zM861.0 322.0h2v11h-2zM868.0 316.0h2v11h-2zM874.0 314.0h2v11h-2zM879.0 316.0h2v11h-2zM884.0 319.0h2v11h-2zM869.0 322.0h2v11h-2zM876.0 322.0h2v11h-2zM884.0 324.0h2v11h-2zM871.0 320.0h2v11h-2zM865.0 320.0h2v11h-2zM873.0 326.0h2v11h-2zM881.0 325.0h2v11h-2zM866.0 325.0h2v11h-2zM225.0 146.0h2v11h-2zM223.0 154.0h2v11h-2zM220.0 160.0h2v11h-2zM219.0 164.0h2v11h-2zM190.0 140.0h2v11h-2zM236.0 139.0h2v11h-2zM248.0 140.0h2v11h-2zM251.0 142.0h2v11h-2zM260.0 139.0h2v11h-2zM214.0 136.0h2v11h-2zM527.0 433.0h2v11h-2zM531.0 434.0h2v11h-2zM526.0 424.0h2v11h-2zM532.0 416.0h2v11h-2zM543.0 413.0h2v11h-2zM674.0 326.0h2v11h-2zM677.0 322.0h2v11h-2zM683.0 322.0h2v11h-2zM686.0 326.0h2v11h-2zM692.0 326.0h2v11h-2zM695.0 322.0h2v11h-2zM701.0 322.0h2v11h-2zM704.0 326.0h2v11h-2zM710.0 326.0h2v11h-2zM713.0 322.0h2v11h-2zM719.0 322.0h2v11h-2zM722.0 326.0h2v11h-2zM728.0 326.0h2v11h-2zM731.0 322.0h2v11h-2zM737.0 322.0h2v11h-2zM740.0 326.0h2v11h-2zM744.0 323.0h2v11h-2zM747.0 326.0h2v11h-2zM750.0 323.0h2v11h-2zM753.0 326.0h2v11h-2zM756.0 323.0h2v11h-2zM767.0 325.0h2v11h-2zM771.0 325.0h2v11h-2zM776.0 325.0h2v11h-2zM787.0 325.0h2v11h-2zM863.0 324.0h2v11h-2zM867.0 324.0h2v11h-2zM871.0 324.0h2v11h-2zM875.0 324.0h2v11h-2zM879.0 324.0h2v11h-2zM883.0 324.0h2v11h-2zM357.0 183.0h2v11h-2zM525.0 428.0h2v11h-2zM530.0 425.0h2v11h-2zM533.0 432.0h2v11h-2zM528.0 436.0h2v11h-2zM698.0 307.0h2v11h-2zM640.0 341.0h2v11h-2zM640.0 345.0h2v11h-2zM644.0 344.0h2v11h-2zM650.0 334.0h2v11h-2zM651.0 330.0h2v11h-2zM654.0 332.0h2v11h-2zM631.0 343.0h2v11h-2zM163.0 105.0h2v11h-2zM162.0 110.0h2v11h-2zM160.0 115.0h2v11h-2zM161.0 119.0h2v11h-2zM159.0 128.0h2v11h-2zM159.0 133.0h2v11h-2zM155.0 145.0h2v11h-2zM154.0 151.0h2v11h-2zM155.0 156.0h2v11h-2zM658.0 332.0h2v11h-2zM663.0 329.0h2v11h-2zM667.0 326.0h2v11h-2zM671.0 323.0h2v11h-2zM697.0 313.0h2v11h-2z" fill="#339966"/>
</g>
<text x="83" y="520.5" text-anchor="end" font-size="15.2" letter-spacing="4.3" fill="#000" stroke="#000" stroke-width="0.3">0</text><text x="83" y="484.5" text-anchor="end" font-size="15.2" letter-spacing="4.3" fill="#000" stroke="#000" stroke-width="0.3">2</text><text x="83" y="448.5" text-anchor="end" font-size="15.2" letter-spacing="4.3" fill="#000" stroke="#000" stroke-width="0.3">4</text><text x="83" y="412.5" text-anchor="end" font-size="15.2" letter-spacing="4.3" fill="#000" stroke="#000" stroke-width="0.3">6</text><text x="83" y="375.5" text-anchor="end" font-size="15.2" letter-spacing="4.3" fill="#000" stroke="#000" stroke-width="0.3">8</text><text x="83" y="340.5" text-anchor="end" font-size="15.2" letter-spacing="4.3" fill="#000" stroke="#000" stroke-width="0.3">10</text><text x="83" y="305.5" text-anchor="end" font-size="15.2" letter-spacing="4.3" fill="#000" stroke="#000" stroke-width="0.3">12</text><text x="83" y="268.5" text-anchor="end" font-size="15.2" letter-spacing="4.3" fill="#000" stroke="#000" stroke-width="0.3">14</text><text x="83" y="233.5" text-anchor="end" font-size="15.2" letter-spacing="4.3" fill="#000" stroke="#000" stroke-width="0.3">16</text><text x="83" y="196.5" text-anchor="end" font-size="15.2" letter-spacing="4.3" fill="#000" stroke="#000" stroke-width="0.3">18</text><text x="83" y="161.5" text-anchor="end" font-size="15.2" letter-spacing="4.3" fill="#000" stroke="#000" stroke-width="0.3">20</text><text x="83" y="124.5" text-anchor="end" font-size="15.2" letter-spacing="4.3" fill="#000" stroke="#000" stroke-width="0.3">22</text><text x="83" y="89.5" text-anchor="end" font-size="15.2" letter-spacing="4.3" fill="#000" stroke="#000" stroke-width="0.3">24</text><rect x="83" y="538" width="9" height="1.3" fill="#000"/><text x="94.3" y="543.5" font-size="15.2" letter-spacing="4.3" fill="#000" stroke="#000" stroke-width="0.3">20</text><text x="162.2" y="543.5" text-anchor="middle" font-size="15.2" letter-spacing="4.3" fill="#000" stroke="#000" stroke-width="0.3">0</text><text x="224.2" y="543.5" text-anchor="middle" font-size="15.2" letter-spacing="4.3" fill="#000" stroke="#000" stroke-width="0.3">20</text><text x="285.2" y="543.5" text-anchor="middle" font-size="15.2" letter-spacing="4.3" fill="#000" stroke="#000" stroke-width="0.3">40</text><text x="346.2" y="543.5" text-anchor="middle" font-size="15.2" letter-spacing="4.3" fill="#000" stroke="#000" stroke-width="0.3">60</text><text x="407.2" y="543.5" text-anchor="middle" font-size="15.2" letter-spacing="4.3" fill="#000" stroke="#000" stroke-width="0.3">80</text><text x="468.2" y="543.5" text-anchor="middle" font-size="15.2" letter-spacing="4.3" fill="#000" stroke="#000" stroke-width="0.3">100</text><text x="528.2" y="543.5" text-anchor="middle" font-size="15.2" letter-spacing="4.3" fill="#000" stroke="#000" stroke-width="0.3">120</text><text x="589.2" y="543.5" text-anchor="middle" font-size="15.2" letter-spacing="4.3" fill="#000" stroke="#000" stroke-width="0.3">140</text><text x="650.2" y="543.5" text-anchor="middle" font-size="15.2" letter-spacing="4.3" fill="#000" stroke="#000" stroke-width="0.3">160</text><text x="711.2" y="543.5" text-anchor="middle" font-size="15.2" letter-spacing="4.3" fill="#000" stroke="#000" stroke-width="0.3">180</text><text x="772.2" y="543.5" text-anchor="middle" font-size="15.2" letter-spacing="4.3" fill="#000" stroke="#000" stroke-width="0.3">200</text><text x="833.2" y="543.5" text-anchor="middle" font-size="15.2" letter-spacing="4.3" fill="#000" stroke="#000" stroke-width="0.3">220</text><text x="894.2" y="543.5" text-anchor="middle" font-size="15.2" letter-spacing="4.3" fill="#000" stroke="#000" stroke-width="0.3">240</text><text x="912" y="89.5" font-size="15.2" letter-spacing="4.3" fill="#008000" stroke="#008000" stroke-width="0.5">4</text><text x="912" y="137.5" font-size="15.2" letter-spacing="4.3" fill="#008000" stroke="#008000" stroke-width="0.5">5</text><text x="912" y="184.5" font-size="15.2" letter-spacing="4.3" fill="#008000" stroke="#008000" stroke-width="0.5">6</text><text x="912" y="233.5" font-size="15.2" letter-spacing="4.3" fill="#008000" stroke="#008000" stroke-width="0.5">7</text><text x="912" y="280.5" font-size="15.2" letter-spacing="4.3" fill="#008000" stroke="#008000" stroke-width="0.5">8</text><text x="912" y="328.5" font-size="15.2" letter-spacing="4.3" fill="#008000" stroke="#008000" stroke-width="0.5">9</text><text x="912" y="375.5" font-size="15.2" letter-spacing="4.3" fill="#008000" stroke="#008000" stroke-width="0.5">10</text><text x="912" y="424.5" font-size="15.2" letter-spacing="4.3" fill="#008000" stroke="#008000" stroke-width="0.5">11</text><text x="912" y="471.5" font-size="15.2" letter-spacing="4.3" fill="#008000" stroke="#008000" stroke-width="0.5">12</text><text x="912" y="520.5" font-size="15.2" letter-spacing="4.3" fill="#008000" stroke="#008000" stroke-width="0.5">13</text>
<g font-size="15.2" stroke-width="0.25">
<text x="298" y="40" letter-spacing="3.6" fill="#000" stroke="#000">V5668 Sgr</text>
<text x="429" y="40" letter-spacing="4.0" fill="#800080" stroke="#800080">D(34)</text>
<text x="482" y="40" fill="#000" stroke="#000">,</text>
<text x="495" y="40" letter-spacing="3.8" fill="#ff6600" stroke="#ff6600">OI</text>
<text x="523" y="40" letter-spacing="4.1" fill="#ff6600" stroke="#ff6600">8446/7774</text>
<text x="630" y="40" fill="#000" stroke="#000">,</text>
<text x="644" y="40" letter-spacing="2.8" fill="#008000" stroke="#008000" stroke-width="0.45">Vmag.</text>
<text x="408" y="569.5" letter-spacing="3.42" fill="#000" stroke="#000">JD–2457103.17416</text>
<text x="706" y="247.5" letter-spacing="3.7" fill="#008000" stroke="#008000" stroke-width="0.35">Vmag.(AAVSO)</text>
<text transform="translate(42,385) rotate(-90)" letter-spacing="2.1" font-size="15"><tspan fill="#800080" stroke="#800080">D(34)</tspan><tspan fill="#000" stroke="#000">,</tspan><tspan fill="#ff6600" stroke="#ff6600"> OI 8446/7774</tspan></text>
<text transform="translate(966,321) rotate(-90)" letter-spacing="1.7" font-size="15" fill="#008000" stroke="#008000" stroke-width="0.6">Vmag.</text>
</g>

</svg></body></html>
